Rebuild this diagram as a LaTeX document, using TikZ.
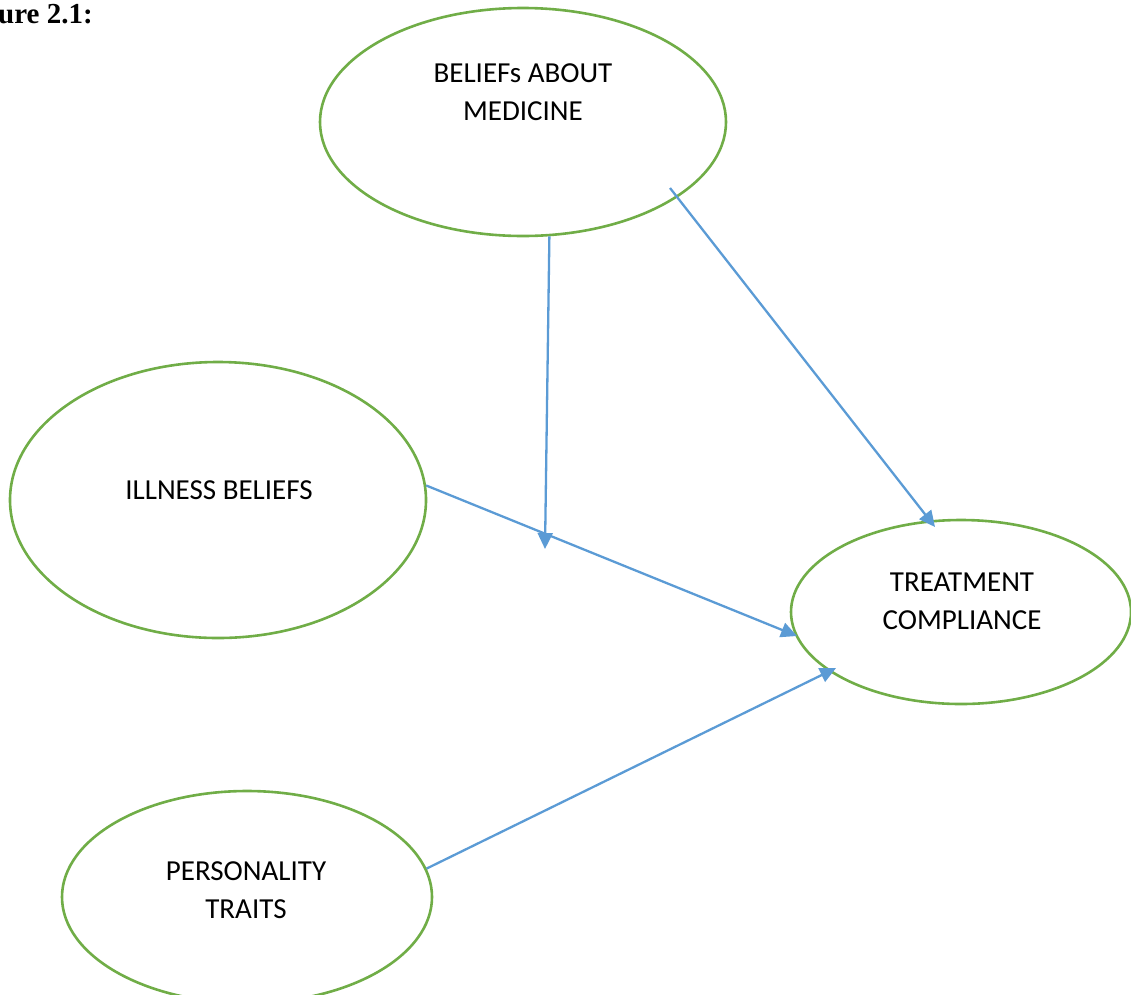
\documentclass[tikz,border=0pt]{standalone}
\usepackage{fontspec}
\setmainfont{Carlito}
\newfontfamily\capfont{Liberation Serif}
\usetikzlibrary{shapes.geometric,arrows.meta,calc}

\definecolor{ovalgreen}{HTML}{70AD47}
\definecolor{linkblue}{HTML}{5B9BD5}

\tikzset{
  oval/.style={ellipse, draw=ovalgreen, line width=2.6pt, inner sep=0pt},
  ovaltext/.style={align=center, font=\fontsize{29}{38}\selectfont, inner sep=0pt},
  link/.style={draw=linkblue, line width=2.3pt,
    -{Triangle[length=16pt,width=15pt]}}
}

\begin{document}
\begin{tikzpicture}[x=1pt,y=-1pt]
  \useasboundingbox (0,0) rectangle (1131,994);

  % caption fragment
  \node[anchor=base west, inner sep=0pt, font=\capfont\bfseries\fontsize{29}{32}\selectfont]
    (cap) at (-2,23) {ure 2.1:};

  % the four constructs
  \node[oval, minimum width=406pt, minimum height=228pt] (med)  at (523,122) {};
  \node[oval, minimum width=416pt, minimum height=276pt] (ill)  at (218,500) {};
  \node[oval, minimum width=340pt, minimum height=184pt] (comp) at (961,612) {};
  \node[oval, minimum width=370pt, minimum height=212pt] (pers) at (247,897) {};

  \node[ovaltext] (medtxt)  at (523,92)  {BELIEFs ABOUT\\MEDICINE};
  \node[ovaltext] (illtxt)  at (219,490) {ILLNESS BELIEFS};
  \node[ovaltext] (comptxt) at (962,601) {TREATMENT\\COMPLIANCE};
  \node[ovaltext] (perstxt) at (246,890) {PERSONALITY\\TRAITS};

  % moderation point on the illness-beliefs path
  \coordinate (mod) at (545,549);

  % paths
  \draw[link] (med.-77) -- (mod);
  \draw[link] ($(med.center)+(147,66)$) -- ($(comp.center)+(-26,-85)$);
  \draw[link] (ill.4) -- ($(comp.center)+(-164,24)$);
  \draw[link] (pers.9.5) -- ($(comp.center)+(-125,56)$);
\end{tikzpicture}
\end{document}
